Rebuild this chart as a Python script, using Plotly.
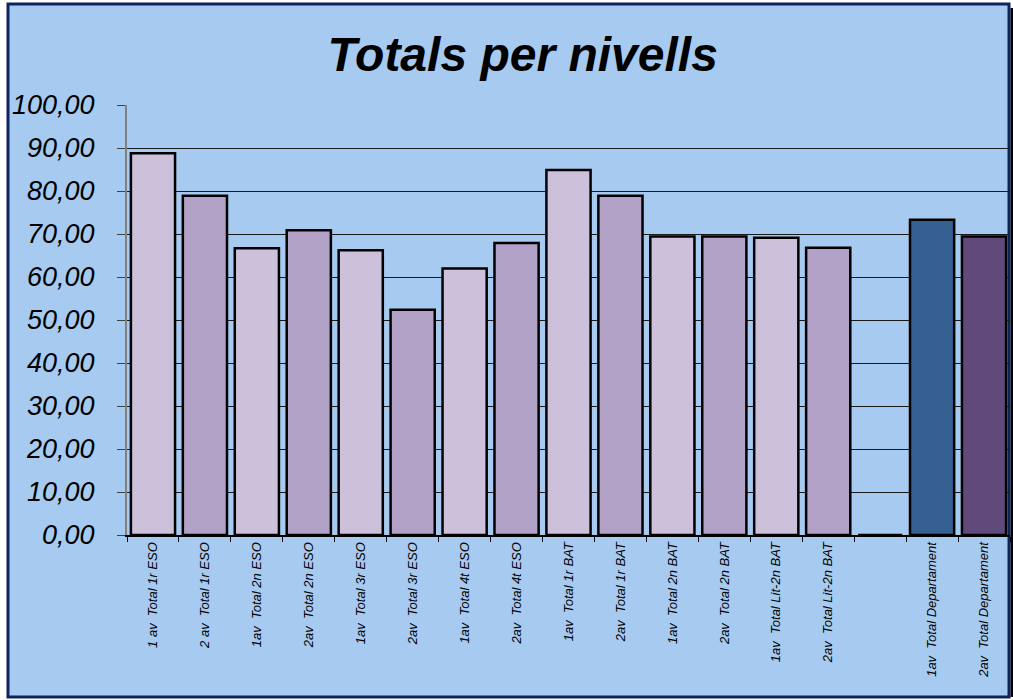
import plotly.graph_objects as go

categories = [
    "1 av  Total 1r ESO", "2 av  Total 1r ESO", "1av  Total 2n ESO", "2av  Total 2n ESO",
    "1av  Total 3r ESO", "2av  Total 3r ESO", "1av  Total 4t ESO", "2av  Total 4t ESO",
    "1av  Total 1r BAT", "2av  Total 1r BAT", "1av  Total 2n BAT", "2av  Total 2n BAT",
    "1av  Total Lit-2n BAT", "2av  Total Lit-2n BAT", " ",
    "1av  Total Departament", "2av  Total Departament",
]
values = [88.8, 78.9, 66.7, 70.9, 66.2, 52.4, 62.0, 67.9,
          84.9, 78.9, 69.4, 69.4, 69.1, 66.8, 0.0, 73.3, 69.4]
bar_colors = ["#CCC0DA", "#B3A2C7"] * 7 + ["#A6CAF0", "#366092", "#604A7B"]
y_ticks = [0, 10, 20, 30, 40, 50, 60, 70, 80, 90, 100]

W, H = 1013, 700
ML, MR, MT, MB = 127, 3, 105, 165
pw = W - ML - MR
ph = H - MT - MB

def px_x(p):
    return (p - ML) / pw

def px_y(p):
    return (H - MB - p) / ph

fig = go.Figure(go.Bar(
    x=categories, y=values,
    marker=dict(color=bar_colors, line=dict(color="#000000", width=2.5)),
    hoverinfo="x+y",
))

fig.update_layout(
    width=W, height=H,
    margin=dict(l=ML, r=MR, t=MT, b=MB, pad=0),
    paper_bgcolor="#FFFFFF",
    plot_bgcolor="rgba(0,0,0,0)",
    separators=",.",
    bargap=0.15,
    showlegend=False,
    font=dict(family="Liberation Sans, Arial, sans-serif", color="#000000"),
    title=dict(
        text="<b><i>Totals per nivells</i></b>",
        x=0.516, xref="container", xanchor="center",
        y=1 - 54 / H, yref="container", yanchor="middle",
        font=dict(size=48, family="Liberation Sans, Arial, sans-serif", color="#000000"),
    ),
    xaxis=dict(
        type="category",
        tickangle=-90,
        tickson="boundaries",
        ticks="outside", ticklen=5, tickcolor="#000000", tickwidth=1,
        showgrid=False,
        showline=True, linecolor="#000000", linewidth=2,
        tickfont=dict(size=13, style="italic", color="#000000"),
        fixedrange=True,
    ),
    yaxis=dict(
        range=[0, 100],
        tickvals=y_ticks,
        tickformat=".2f",
        ticks="outside", ticklen=8, tickcolor="#404040", tickwidth=1,
        ticklabelstandoff=17,
        showgrid=True, gridcolor="#1A1A1A", gridwidth=1.2,
        zeroline=False,
        showline=True, linecolor="#808080", linewidth=2,
        tickfont=dict(size=27, style="italic", color="#000000"),
        fixedrange=True,
    ),
    shapes=[
        dict(type="rect", xref="paper", yref="paper", layer="below",
             x0=px_x(8), x1=px_x(1009), y0=px_y(697), y1=px_y(4),
             fillcolor="#A6CAF0", line=dict(color="#0C2461", width=3)),
        dict(type="rect", xref="paper", yref="paper", layer="below",
             x0=px_x(1010.5), x1=px_x(1013), y0=px_y(697), y1=px_y(8),
             fillcolor="#000000", line=dict(width=0)),
    ],
)

fig.write_html(
    "out.html",
    config={"displayModeBar": False},
    post_script="document.body.style.margin='0';document.body.style.padding='0';document.body.style.overflow='hidden';",
)
